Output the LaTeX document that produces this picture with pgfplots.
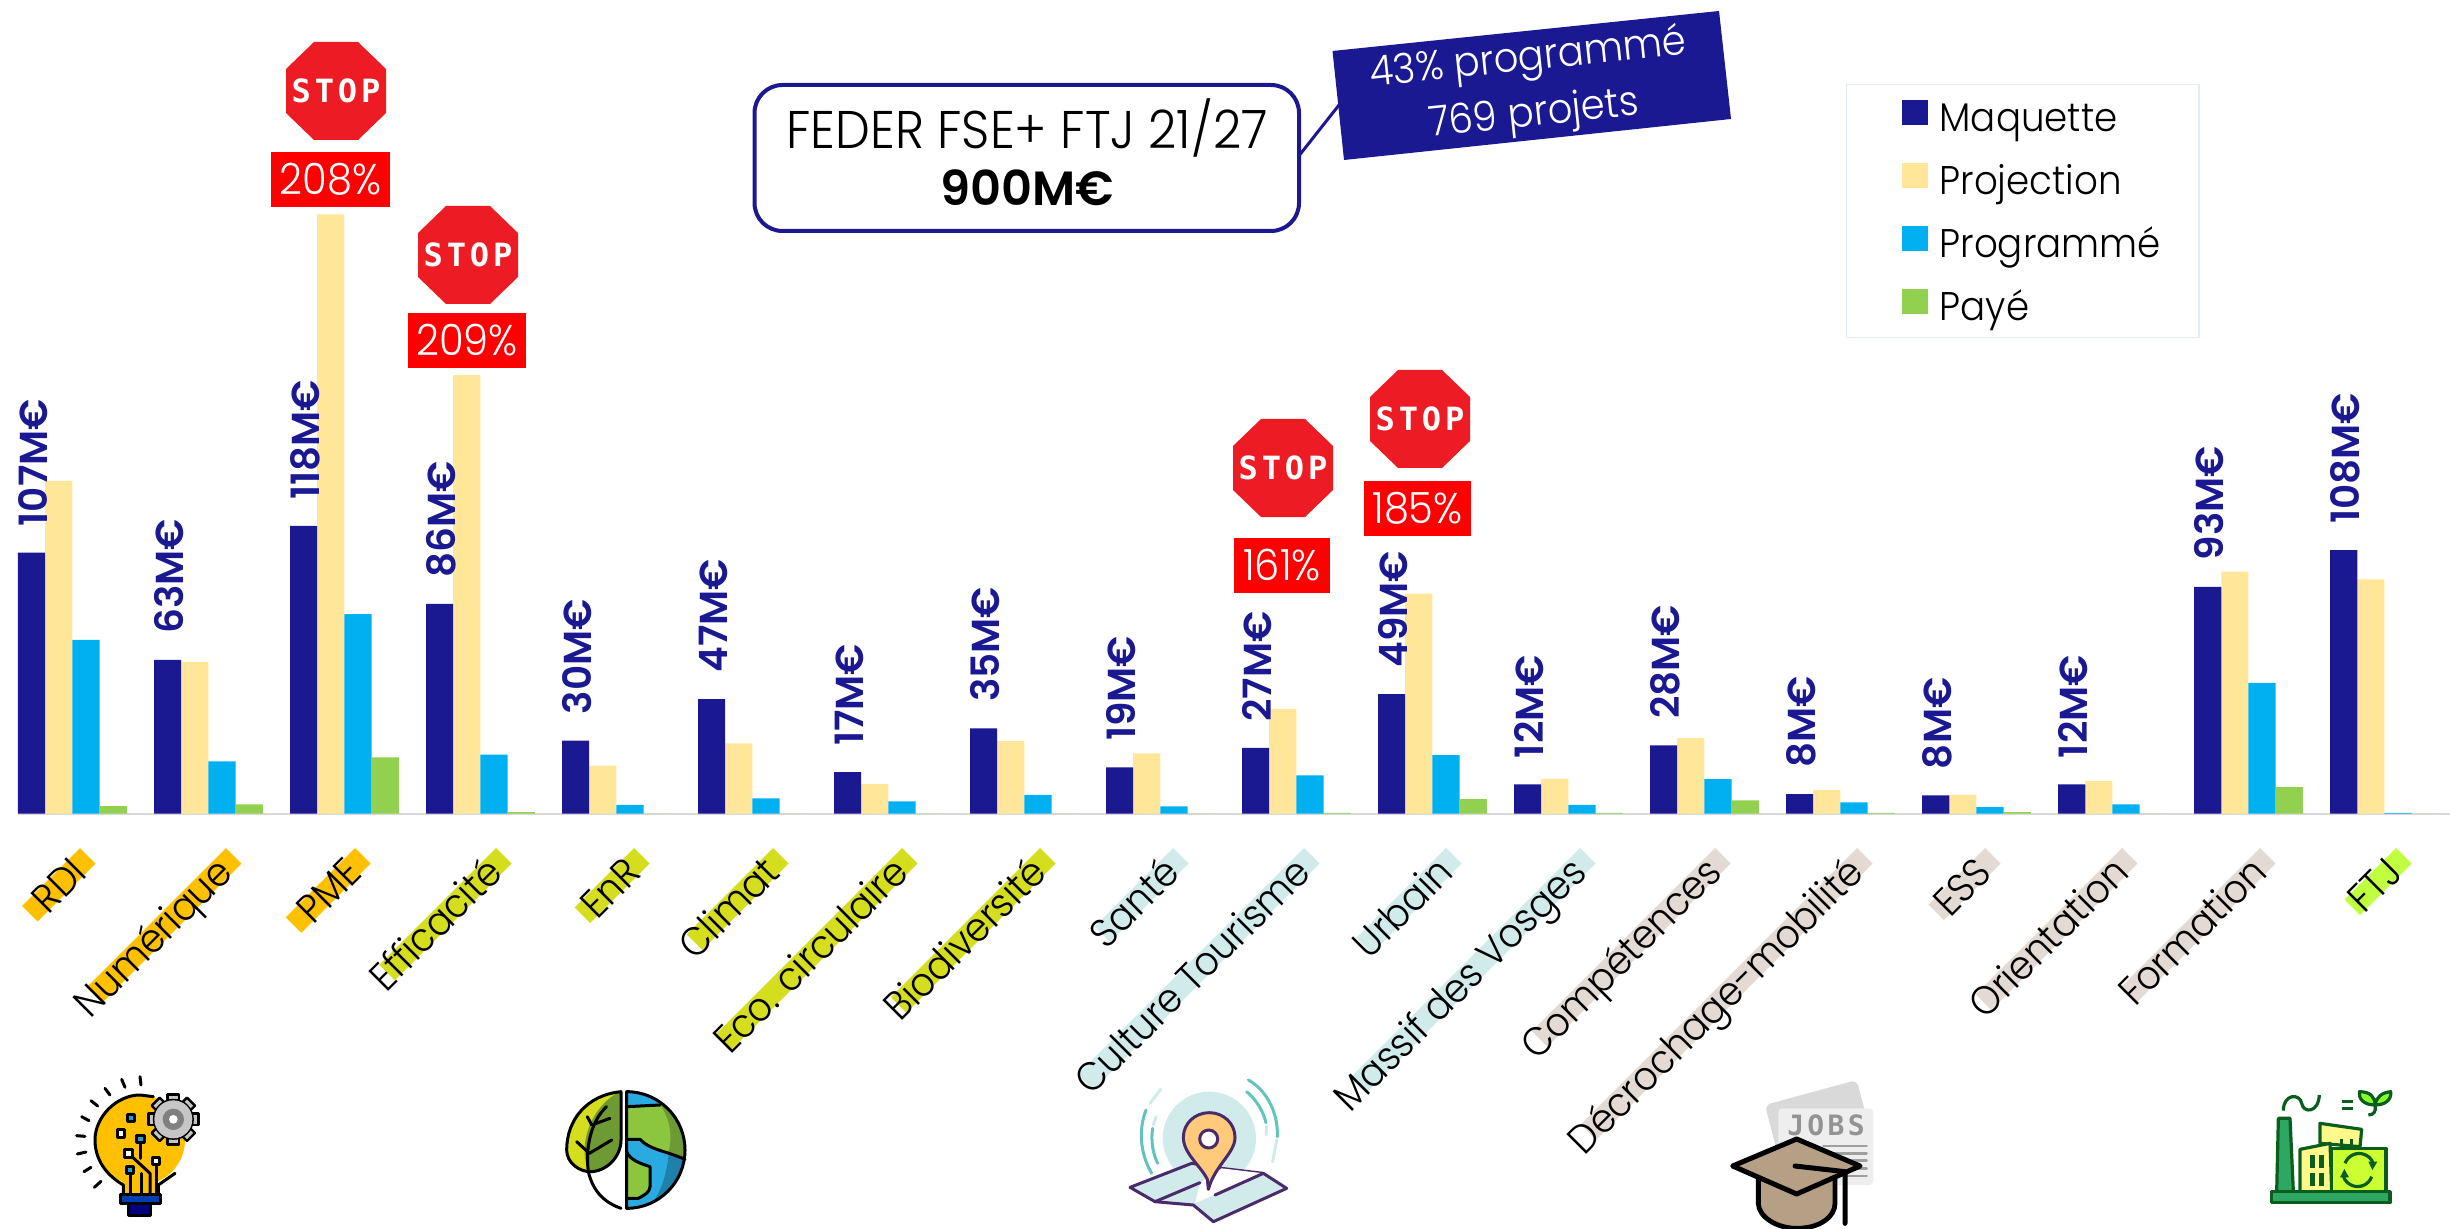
\documentclass[border=0pt]{standalone}
\usepackage{fontspec}
\usepackage{pgfplots}
\pgfplotsset{compat=1.18}
\setmainfont{Poppins}[UprightFont=* Light, BoldFont=* Medium, FakeStretch=0.93]
\newfontfamily\semib{Poppins SemiBold}
\newfontfamily\stopfont{DejaVu Sans Mono}[LetterSpace=12]

\definecolor{navy}{HTML}{1A1992}
\definecolor{proj}{HTML}{FFE699}
\definecolor{prog}{HTML}{00B0F0}
\definecolor{paye}{HTML}{92D050}
\definecolor{stopred}{HTML}{ED1C24}
\definecolor{hlorange}{HTML}{FFC000}
\definecolor{hlgreen}{HTML}{D4DE1E}
\definecolor{hlteal}{HTML}{D0EBEA}
\definecolor{hltaupe}{HTML}{E2DAD3}
\definecolor{hllime}{HTML}{BFFF3F}
\definecolor{purp}{HTML}{4B2A6B}
\definecolor{tealdk}{HTML}{62C3BF}
\definecolor{fgreen}{HTML}{0B5D1E}
\definecolor{fmid}{HTML}{2EA763}
\definecolor{capb}{HTML}{B59F85}
\definecolor{land}{HTML}{8CC63F}
\definecolor{landdk}{HTML}{6E9A33}
\definecolor{ocean}{HTML}{29ABE2}
\definecolor{oceandk}{HTML}{1F80AC}
\definecolor{pinc}{HTML}{FFCA7A}
\definecolor{legbox}{HTML}{E3ECF7}

% all sizes below: 1 unit = 1 px of the reference = 0.5pt
\newcommand{\band}[3]{\fill[#3] (#1,848) -- ++(15.5,15.5) -- ++({-0.7071*#2},{0.7071*#2}) -- ++(-15.5,-15.5) -- cycle;}
\newcommand{\stopsign}[2]{%
  \fill[stopred] (#1-22,#2-49) -- (#1+22,#2-49) -- (#1+50,#2-22) -- (#1+50,#2+22)
    -- (#1+22,#2+49) -- (#1-22,#2+49) -- (#1-50,#2+22) -- (#1-50,#2-22) -- cycle;
  \node[text=white,font=\stopfont\bfseries\fontsize{16}{16}\selectfont,inner sep=0pt] at (#1,#2) {STOP};}
\newcommand{\pct}[5]{%
  \fill[red] (#1,#2) rectangle (#3,#4);
  \node[text=white,font=\fontsize{21.5}{24}\selectfont,inner sep=0pt] at ({(#1+#3)/2},{(#2+#4)/2}) {#5};}
\newcommand{\legimg}[1]{\path[draw=none] (-9pt,0pt) -- (18.5pt,0pt); \fill[#1] (0pt,-3.8pt) rectangle (12.5pt,8.2pt);}

\begin{document}
\begin{tikzpicture}[x=0.5pt,y=-0.5pt]
\useasboundingbox (0,0) rectangle (2450,1229);

% highlight bands behind the category names
\band{80}{82}{hlorange}
\band{226}{197}{hlorange}
\band{355}{98}{hlorange}
\band{496}{165}{hlgreen}
\band{634}{84}{hlgreen}
\band{773}{122}{hlgreen}
\band{902}{265}{hlgreen}
\band{1040}{211}{hlgreen}
\band{1173}{111}{hlteal}
\band{1304}{320}{hlteal}
\band{1446}{127}{hlteal}
\band{1580}{325}{hlteal}
\band{1715}{259}{hltaupe}
\band{1857}{391}{hltaupe}
\band{1985}{80}{hltaupe}
\band{2122}{207}{hltaupe}
\band{2260}{196}{hltaupe}
\band{2396}{73}{hllime}

\begin{axis}[
    at={(9pt,-406.85pt)}, anchor=south west,
    scale only axis,
    width=1216pt, height=406.85pt,
    xmin=-0.4, xmax=17.482,
    ymin=0, ymax=333.5,
    axis x line=bottom, axis y line=none,
    axis line style={-, draw=black!15, line width=1pt},
    ytick=\empty,
    xtick={0.122,1.196,2.144,3.181,4.196,5.218,6.167,7.181,8.159,9.122,10.166,11.151,12.144,13.188,14.13,15.137,16.152,17.15},
    xticklabels={RDI,Numérique,PME,Efficacité,EnR,Climat,Eco. circulaire,Biodiversité,Santé,Culture Tourisme,Urbain,Massif des Vosges,Compétences,Décrochage-mobilité,ESS,Orientation,Formation,FTJ},
    major tick length=0pt,
    xticklabel style={yshift=-30.5pt, rotate=45, anchor=base east, inner sep=0pt,
      font=\fontsize{20}{24}\selectfont},
    clip=false,
    legend style={at={(0.7516,0.8968)}, anchor=north west,
      draw=legbox, line width=0.75pt,
      inner xsep=19pt, inner ysep=6.5pt, row sep=12.5pt,
      nodes={inner sep=0pt, text height=17pt, text depth=2pt},
      font=\fontsize{20}{24}\selectfont},
    legend cell align=left,
  ]
  \addlegendimage{navy, legend image code/.code={\legimg{navy}}}
  \addlegendentry{Maquette}
  \addlegendimage{proj, legend image code/.code={\legimg{proj}}}
  \addlegendentry{Projection}
  \addlegendimage{prog, legend image code/.code={\legimg{prog}}}
  \addlegendentry{Programmé}
  \addlegendimage{paye, legend image code/.code={\legimg{paye}}}
  \addlegendentry{Payé}

  % Projection
  \addplot[ybar, forget plot, bar width=13.6pt, bar shift=-6.8pt, fill=proj, draw=none] coordinates {
    (0,136.4) (1,62.2) (2,245.6) (3,179.8) (4,19.7) (5,28.8) (6,12.2) (7,29.8) (8,24.7)
    (9,43) (10,90.2) (11,14.3) (12,31) (13,9.8) (14,7.7) (15,13.4) (16,99.2) (17,96)};
  % Programmé
  \addplot[ybar, forget plot, bar width=13.6pt, bar shift=6.8pt, fill=prog, draw=none] coordinates {
    (0,71.2) (1,21.4) (2,81.8) (3,24.2) (4,3.6) (5,6.3) (6,5.1) (7,7.7) (8,3)
    (9,15.7) (10,24) (11,3.6) (12,14.2) (13,4.6) (14,2.7) (15,3.8) (16,53.6) (17,0.3)};
  % Payé
  \addplot[ybar, forget plot, bar width=13.6pt, bar shift=20.4pt, fill=paye, draw=none] coordinates {
    (0,3.1) (1,3.8) (2,23.1) (3,0.6) (4,0) (5,0) (6,0) (7,0) (8,0)
    (9,0.3) (10,6) (11,0.3) (12,5.5) (13,0.3) (14,0.7) (15,0) (16,10.9) (17,0)};
  % Maquette last: its labels lie over the Projection bars
  \addplot[ybar, forget plot, bar width=13.6pt, bar shift=-20.4pt, fill=navy, draw=none,
      point meta=explicit symbolic,
      nodes near coords={\pgfplotspointmeta M€},
      nodes near coords align={anchor=west},
      every node near coord/.append style={yshift=13pt, xshift=-19.65pt, rotate=90, anchor=west,
        inner sep=0pt, text=navy, font=\semib\fontsize{19.5}{24}\selectfont}]
    coordinates {
    (0,107)[107] (1,63)[63] (2,118)[118] (3,86)[86] (4,30)[30] (5,47)[47] (6,17)[17] (7,35)[35] (8,19)[19]
    (9,27)[27] (10,49)[49] (11,12)[12] (12,28)[28] (13,8)[8] (14,7.5)[8] (15,12)[12] (16,93)[93] (17,108)[108]};
\end{axis}

% stop signs and overshoot boxes
\stopsign{336}{91}
\pct{271}{152}{390}{207}{208\%}
\stopsign{468}{255}
\pct{408}{313}{526}{368}{209\%}
\stopsign{1283}{468}
\pct{1234}{538}{1330}{593}{161\%}
\stopsign{1420}{419}
\pct{1364}{481}{1471}{536}{185\%}

% callout
\draw[navy,line width=1.5pt] (1298,157) -- (1339,105);
\draw[navy,line width=2pt,fill=white,rounded corners=14pt] (754.5,85) rectangle (1299,231);
\node[font=\fontsize{26.5}{28}\selectfont,inner sep=0pt] at (1027,128) {FEDER FSE+ FTJ 21/27};
\node[font=\semib\fontsize{24}{26}\selectfont,inner sep=0pt] at (1027,188) {900M€};
\fill[navy] (1332.5,51) -- (1719,11) -- (1731,119) -- (1344,160) -- cycle;
\node[text=white,rotate=6,align=center,inner sep=0pt,font=\fontsize{20.7}{28}\selectfont] at (1531,87.5) {43\% programmé\\769 projets};

% bulb icon
\begin{scope}[shift={(60,1060)},x=0.16667pt,y=-0.16667pt,line width=1.5pt,line cap=round,line join=round]
  \fill[hlorange] (240,240) circle[radius=135];
  \fill[hlorange] (185,345) -- (295,345) -- (295,400) -- (185,400) -- cycle;
  \draw (190,400) -- (190,375) .. controls (130,340) and (105,290) .. (105,240)
     .. controls (105,170) and (170,105) .. (240,105) -- (280,110);
  \draw (295,400) -- (295,375) -- (345,340);
  \draw[fill=blue!50!prog!70!black] (180,403) rectangle (300,430);
  \draw[fill=blue!50!black] (205,430) rectangle (270,466);
  \foreach \a/\b/\c/\d in {240/50/243/75,185/58/195/82,135/85/150/105,93/122/113/138,65/170/87/182,50/227/75/229,52/282/78/276,72/335/93/322,103/382/123/364}
    \draw (\a,\b) -- (\c,\d);
  \foreach \r in {0,45,...,315}
    \draw[rotate around={\r:(340,178)},fill=gray!45,line width=1.2pt] (323,103) rectangle (357,135);
  \draw[fill=gray!45,line width=1.2pt] (340,178) circle[radius=58];
  \fill[gray!45] (340,178) circle[radius=57];
  \fill[gray] (340,178) circle[radius=32];
  \fill[white] (340,178) circle[radius=13];
  \draw (241,236) -- (241,295);
  \draw (205,280) -- (270,340) -- (270,398);
  \draw (288,303) -- (288,398);
  \draw (210,330) -- (210,398);
  \draw (243,340) -- (243,398);
  \foreach \a/\b/\c in {213/173/cyan!70!teal,183/220/white,241/236/cyan!70!teal,288/303/white,210/330/cyan!70!teal,205/280/white}
    \draw[fill=\c] (\a-11,\b-11) rectangle (\a+11,\b+11);
\end{scope}

% leaf and earth icon
\begin{scope}[shift={(550,1070)},x=0.16667pt,y=-0.16667pt,line width=1.5pt,line cap=round,line join=round]
  \fill[hlgreen] (213,65) .. controls (110,75) and (50,150) .. (50,240) .. controls (50,280) and (90,305) .. (120,305)
     .. controls (170,305) and (213,260) .. (213,210) -- cycle;
  \fill[landdk] (213,65) .. controls (170,80) and (115,140) .. (105,220) .. controls (100,260) and (110,295) .. (120,305)
     .. controls (170,305) and (213,260) .. (213,210) -- cycle;
  \draw (213,65) .. controls (110,75) and (50,150) .. (50,240) .. controls (50,280) and (90,305) .. (120,305)
     .. controls (170,305) and (213,260) .. (213,210) -- cycle;
  \draw (170,110) .. controls (125,150) and (105,230) .. (115,305) .. controls (130,370) and (170,400) .. (213,415);
  \draw (112,140) -- (125,165) -- (180,145);
  \draw (80,215) -- (118,250) -- (185,210);
  \begin{scope}
    \clip (230,65) arc (-90:90:175) -- cycle;
    \fill[land] (225,60) rectangle (410,420);
    \fill[landdk] (300,70) .. controls (370,130) and (370,220) .. (350,255) -- (410,265) -- (410,60) -- cycle;
    \fill[ocean] (230,60) -- (300,60) -- (330,105) -- (230,110) -- cycle;
    \fill[ocean] (230,208) -- (270,208) .. controls (300,240) and (340,240) .. (410,268) -- (410,420) -- (230,420) -- (230,385)
       -- (265,385) .. controls (285,375) and (300,365) .. (300,350) -- (300,290) .. controls (270,280) and (240,270) .. (230,245) -- cycle;
    \fill[oceandk] (405,268) .. controls (370,250) and (350,250) .. (355,260) .. controls (350,310) and (335,370) .. (290,420) -- (410,420) -- cycle;
  \end{scope}
  \draw (230,65) arc (-90:90:175) -- cycle;
  \draw (230,110) -- (330,105);
  \draw (230,208) -- (270,208) .. controls (300,240) and (340,240) .. (405,268);
  \draw (230,245) .. controls (240,270) and (270,280) .. (300,290) -- (300,350) .. controls (300,365) and (285,375) .. (265,385) -- (230,385);
\end{scope}

% map pin icon
\begin{scope}[shift={(1120,1060)},x=0.16667pt,y=-0.16667pt,line width=1.5pt,line cap=round,line join=round]
  \fill[hlteal] (268,235) circle[radius=140];
  \draw[purp,fill=hlteal] (30,382) -- (215,310) -- (305,325) -- (430,340) -- (500,385) -- (280,485) -- (220,435) -- (105,425) -- cycle;
  \fill[white] (240,368) -- (305,325) -- (430,340) -- (225,430) -- cycle;
  \draw[purp] (105,425) -- (240,368);
  \draw[purp] (285,405) -- (430,340);
  \draw[purp,fill=pinc] (265,388) -- (262,358) .. controls (240,315) and (190,280) .. (190,232)
     .. controls (190,190) and (225,158) .. (268,158) .. controls (310,158) and (345,190) .. (345,232)
     .. controls (345,280) and (285,315) .. (265,388) -- cycle;
  \draw[purp,fill=white] (266,237) circle[radius=27];
  \draw[tealdk] (78,150) .. controls (55,210) and (60,280) .. (95,340);
  \draw[tealdk] (98,205) .. controls (92,240) and (98,280) .. (113,310);
  \draw[tealdk] (385,60) .. controls (440,90) and (475,160) .. (472,230);
  \draw[tealdk] (380,95) .. controls (410,120) and (430,155) .. (438,188);
  \draw[hlteal] (122,88) -- (90,130);
  \draw[hlteal] (108,170) -- (100,195);
  \draw[hlteal] (440,198) -- (438,225);
  \draw[hlteal] (470,240) -- (458,305);
\end{scope}

% graduation cap icon
\begin{scope}[shift={(1720,1070)},x=0.16667pt,y=-0.16667pt,line cap=round,line join=round]
  \fill[gray!30,rounded corners=3pt] (135,105) -- (410,30) -- (455,200) -- (180,280) -- cycle;
  \fill[gray!13,rounded corners=2pt] (175,115) rectangle (460,345);
  \node[text=gray!85,font=\stopfont\bfseries\fontsize{14}{14}\selectfont,inner sep=0pt] at (318,165) {JOBS};
  \foreach \yy in {228,250,272,295,318}
    \draw[gray!75,line width=1.2pt] (310,\yy) -- (440,\yy);
  \draw[line width=2.4pt,fill=capb] (115,310) -- (115,400) .. controls (115,440) and (170,475) .. (230,475)
     .. controls (300,475) and (345,440) .. (345,400) -- (345,310) -- cycle;
  \draw[line width=2.5pt,fill=capb] (38,288) -- (230,207) -- (420,288) -- (230,372) -- cycle;
  \draw[line width=2.5pt] (225,288) -- (375,305) -- (375,460);
\end{scope}

% factory icon
\begin{scope}[shift={(2260,1080)},x=0.16667pt,y=-0.16667pt,line width=1.6pt,line join=round,draw=fgreen]
  \draw[fill=fmid] (50,335) -- (55,115) -- (90,115) -- (100,335) -- cycle;
  \draw[fill=yellow!45] (180,190) -- (180,130) -- (305,148) -- (300,200) -- cycle;
  \foreach \a in {240,270} \fill[fgreen] (\a,178) rectangle (\a+9,200);
  \draw[fill=yellow!45] (120,335) -- (120,208) -- (210,190) -- (215,335) -- cycle;
  \foreach \a/\b in {150/225,178/225,150/280,178/280} \fill[fgreen] (\a,\b) rectangle (\a+14,\b+38);
  \draw[fill=hllime!80!yellow] (215,205) rectangle (378,335);
  \draw (255,250) arc (200:340:45) (335,290) arc (20:160:45);
  \fill[fgreen] (325,245) -- (352,245) -- (337,270) -- cycle;
  \fill[fgreen] (240,292) -- (267,292) -- (253,267) -- cycle;
  \draw[fill=fmid] (35,335) rectangle (390,368);
  \draw (70,92) .. controls (70,40) and (120,40) .. (125,70) .. controls (130,100) and (175,100) .. (178,45);
  \draw (245,65) -- (280,65) (245,85) -- (280,85);
  \draw[fill=hllime!70!green] (345,75) .. controls (310,75) and (295,55) .. (298,35) .. controls (330,35) and (345,50) .. (345,75)
     .. controls (350,50) and (365,38) .. (392,35) .. controls (395,60) and (375,75) .. (345,75);
  \draw (345,75) .. controls (350,95) and (340,105) .. (325,105);
\end{scope}
\end{tikzpicture}
\end{document}
